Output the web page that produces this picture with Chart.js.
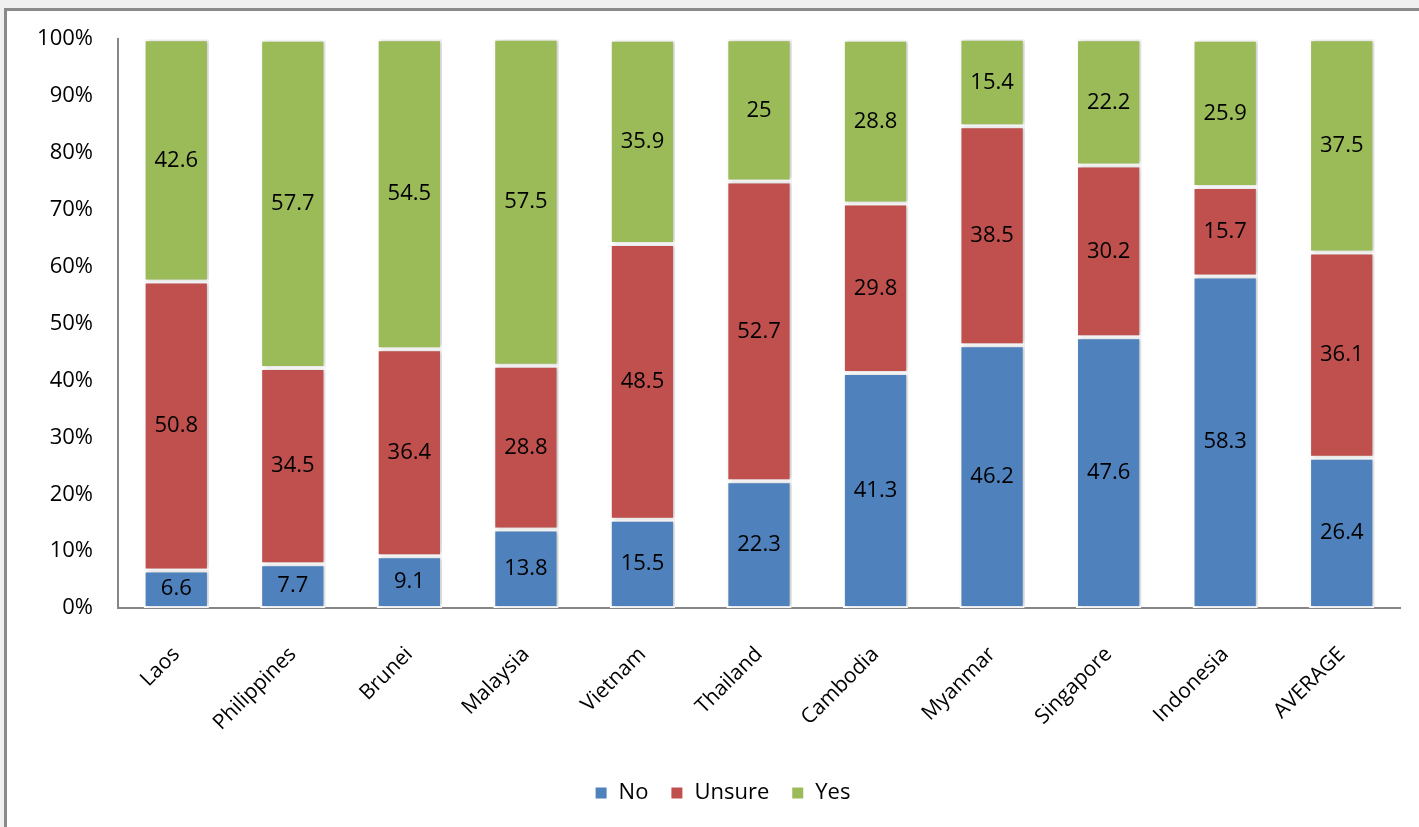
<!DOCTYPE html>
<html>
<head>
<meta charset="utf-8">
<title>Stacked bars</title>
<script src="https://cdn.jsdelivr.net/npm/chart.js@4.4.1/dist/chart.umd.min.js"></script>
<style>
    body { margin: 0; background: #f0f0f0; overflow: hidden; }
    .frame {
        position: absolute;
        left: 4px;
        top: 8px;
        width: 1440px;
        height: 850px;
        border: 3px solid #8a8a8a;
        background: #fff;
    }
    canvas { display: block; }
</style>
</head>
<body>
<div class="frame">
    <canvas id="surveyChart" width="1412" height="816"></canvas>
</div>
<script>
const paises = ["Laos", "Philippines", "Brunei", "Malaysia", "Vietnam", "Thailand", "Cambodia", "Myanmar", "Singapore", "Indonesia", "AVERAGE"];
const respuestaNo = [6.6, 7.7, 9.1, 13.8, 15.5, 22.3, 41.3, 46.2, 47.6, 58.3, 26.4];
const respuestaUnsure = [50.8, 34.5, 36.4, 28.8, 48.5, 52.7, 29.8, 38.5, 30.2, 15.7, 36.1];
const respuestaYes = [42.6, 57.7, 54.5, 57.5, 35.9, 25, 28.8, 15.4, 22.2, 25.9, 37.5];
const ticksY = [0, 10, 20, 30, 40, 50, 60, 70, 80, 90, 100];

document.addEventListener("DOMContentLoaded", function () {

    const ctx = document.getElementById("surveyChart").getContext("2d");
    const fuente = "'Open Sans', 'Noto Sans', sans-serif";

    // etiquetas dentro de cada segmento
    const etiquetas = {
        id: "etiquetas",
        afterDatasetsDraw(chart) {
            const c = chart.ctx;
            c.save();
            c.font = "22px " + fuente;
            c.fillStyle = "#000";
            c.textAlign = "center";
            c.textBaseline = "middle";
            chart.data.datasets.forEach((ds, i) => {
                chart.getDatasetMeta(i).data.forEach((bar, j) => {
                    c.fillText(String(ds.data[j]), bar.x, (bar.y + bar.base) / 2);
                });
            });
            c.restore();
        }
    };

    const sombra = {
        id: "sombra",
        beforeDatasetsDraw(chart) {
            chart.ctx.save();
            chart.ctx.shadowColor = "rgba(0,0,0,0.22)";
            chart.ctx.shadowBlur = 4;
            chart.ctx.shadowOffsetX = 2;
        },
        afterDatasetsDraw(chart) {
            chart.ctx.restore();
        }
    };

    // la leyenda del original queda un poco a la derecha del centro
    const moverLeyenda = {
        id: "moverLeyenda",
        afterLayout(chart) {
            chart.legend.left += 19;
            chart.legend.right += 19;
        }
    };

    const barra = {
        borderColor: "#ffffff",
        borderWidth: 2,
        borderSkipped: false,
        barPercentage: 0.56,
        categoryPercentage: 1.0
    };

    new Chart(ctx, {
        type: "bar",
        data: {
            labels: paises,
            datasets: [
                Object.assign({ label: "No", data: respuestaNo, backgroundColor: "#4f81bd" }, barra),
                Object.assign({ label: "Unsure", data: respuestaUnsure, backgroundColor: "#c0504d" }, barra),
                Object.assign({ label: "Yes", data: respuestaYes, backgroundColor: "#9bbb59" }, barra)
            ]
        },
        options: {
            responsive: false,
            animation: false,
            layout: { padding: { left: 0, right: 19, top: 28, bottom: 13 } },
            plugins: {
                tooltip: { enabled: false },
                legend: {
                    position: "bottom",
                    labels: {
                        color: "#000",
                        font: { family: fuente, size: 22 },
                        boxWidth: 13,
                        boxHeight: 13,
                        padding: 22
                    }
                }
            },
            scales: {
                x: {
                    stacked: true,
                    grid: { display: false },
                    border: { display: true, color: "#868686", width: 2 },
                    ticks: {
                        color: "#000",
                        font: { family: fuente, size: 21 },
                        minRotation: 45,
                        maxRotation: 45,
                        autoSkip: false,
                        padding: 26
                    },
                    afterFit(scale) { scale.height = 152; }
                },
                y: {
                    stacked: true,
                    min: 0,
                    max: 100,
                    grid: { display: false, drawTicks: true, tickLength: 10 },
                    border: { display: true, color: "#868686", width: 2 },
                    afterBuildTicks(scale) { scale.ticks = ticksY.map(v => ({ value: v })); },
                    ticks: {
                        color: "#000",
                        font: { family: fuente, size: 22 },
                        padding: 15,
                        callback: v => v + "%"
                    },
                    afterFit(scale) { scale.width = 111; }
                }
            }
        },
        plugins: [sombra, etiquetas, moverLeyenda]
    });

});
</script>
</body>
</html>
